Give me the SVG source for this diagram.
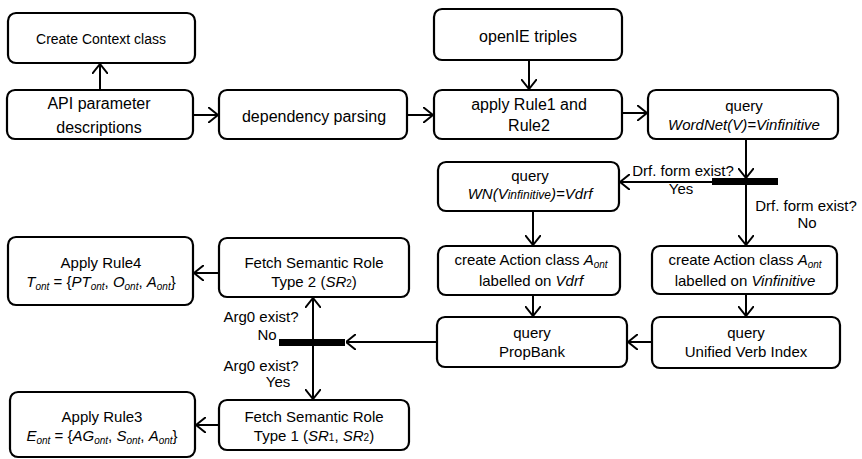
<svg xmlns="http://www.w3.org/2000/svg" width="862" height="459" viewBox="0 0 862 459">
<style>
.box{fill:#fff;stroke:#000;stroke-width:2.2}
text{font-family:"Liberation Sans",Arial,sans-serif;fill:#000;text-anchor:middle}
.t16{font-size:16px}
.t15{font-size:15px}
.t14{font-size:14px}
.i{font-style:italic}
.s{font-size:10px;font-style:italic}
.lbl{font-size:15px}
.c{fill:none;stroke:#000;stroke-width:2}
</style>
<defs>
<marker id="arr" markerUnits="userSpaceOnUse" viewBox="0 0 10 16" refX="10" refY="8" markerWidth="10" markerHeight="16" orient="auto">
<path d="M0,0 L10,8 L0,16" fill="none" stroke="#000" stroke-width="2"/>
</marker>
</defs>
<rect width="862" height="459" fill="#fff"/>
<g id="connectors">
<line class="c" x1="100" y1="90" x2="100" y2="64" marker-end="url(#arr)"/>
<line class="c" x1="193" y1="115" x2="218" y2="115" marker-end="url(#arr)"/>
<line class="c" x1="407" y1="115" x2="433" y2="115" marker-end="url(#arr)"/>
<line class="c" x1="529" y1="60" x2="529" y2="89" marker-end="url(#arr)"/>
<line class="c" x1="622" y1="113" x2="647" y2="113" marker-end="url(#arr)"/>
<line class="c" x1="746" y1="139" x2="746" y2="178" marker-end="url(#arr)"/>
<line class="c" x1="746" y1="185" x2="746" y2="245" marker-end="url(#arr)"/>
<line class="c" x1="712" y1="182" x2="620" y2="182" marker-end="url(#arr)"/>
<line class="c" x1="533" y1="211" x2="533" y2="245" marker-end="url(#arr)"/>
<line class="c" x1="533" y1="295" x2="533" y2="316" marker-end="url(#arr)"/>
<line class="c" x1="746" y1="294" x2="746" y2="316" marker-end="url(#arr)"/>
<line class="c" x1="652" y1="342" x2="628" y2="342" marker-end="url(#arr)"/>
<line class="c" x1="437" y1="342" x2="346" y2="342" marker-end="url(#arr)"/>
<line class="c" x1="313" y1="339" x2="313" y2="298" marker-end="url(#arr)"/>
<line class="c" x1="313" y1="346" x2="313" y2="399" marker-end="url(#arr)"/>
<line class="c" x1="219" y1="273" x2="194" y2="273" marker-end="url(#arr)"/>
<line class="c" x1="219" y1="425" x2="196" y2="425" marker-end="url(#arr)"/>
<rect x="712" y="178" width="66" height="7" fill="#000"/>
<rect x="279" y="339" width="66" height="7" fill="#000"/>
<text class="lbl" x="683" y="176">Drf. form exist?</text>
<text class="lbl" x="681" y="194">Yes</text>
<text class="lbl" x="806" y="211">Drf. form exist?</text>
<text class="lbl" x="807" y="228">No</text>
<text class="lbl" x="261" y="322">Arg0 exist?</text>
<text class="lbl" x="267" y="340">No</text>
<text class="lbl" x="261" y="371">Arg0 exist?</text>
<text class="lbl" x="278" y="387">Yes</text>
</g>
<g id="n-context">
<rect class="box" x="8" y="13" width="187" height="50" rx="8"/>
<text class="t14" x="101" y="44">Create Context class</text>
</g>
<g id="n-api">
<rect class="box" x="7" y="90" width="186" height="49" rx="8"/>
<text class="t16" x="99" y="109">API parameter</text>
<text class="t16" x="99" y="133">descriptions</text>
</g>
<g id="n-dep">
<rect class="box" x="219" y="90" width="188" height="49" rx="8"/>
<text class="t16" x="314" y="122">dependency parsing</text>
</g>
<g id="n-openie">
<rect class="box" x="434" y="9" width="188" height="51" rx="8"/>
<text class="t16" x="528" y="42">openIE triples</text>
</g>
<g id="n-apply12">
<rect class="box" x="434" y="90" width="188" height="49" rx="8"/>
<text class="t16" x="529" y="110">apply Rule1 and</text>
<text class="t16" x="529" y="131">Rule2</text>
</g>
<g id="n-wordnet">
<rect class="box" x="648" y="90" width="190" height="49" rx="8"/>
<text class="t15" x="744" y="111">query</text>
<text class="t15 i" x="744" y="130">WordNet(V)=Vinfinitive</text>
</g>
<g id="n-wn">
<rect class="box" x="438" y="162" width="181" height="49" rx="8"/>
<text class="t15" x="530" y="181">query</text>
<text class="t15 i" x="530" y="199">WN(V<tspan font-size="12px">infinitive</tspan>)=Vdrf</text>
</g>
<g id="n-action-drf">
<rect class="box" x="438" y="246" width="182" height="49" rx="8"/>
<text class="t15" x="531" y="265">create Action class <tspan class="i">A</tspan><tspan class="s" dy="3">ont</tspan></text>
<text class="t15" x="531" y="286">labelled on <tspan class="i">Vdrf</tspan></text>
</g>
<g id="n-action-inf">
<rect class="box" x="652" y="246" width="185" height="48" rx="8"/>
<text class="t15" x="745" y="265">create Action class <tspan class="i">A</tspan><tspan class="s" dy="3">ont</tspan></text>
<text class="t15" x="745" y="286">labelled on <tspan class="i">Vinfinitive</tspan></text>
</g>
<g id="n-propbank">
<rect class="box" x="437" y="317" width="190" height="50" rx="8"/>
<text class="t15" x="532" y="338">query</text>
<text class="t15" x="532" y="357">PropBank</text>
</g>
<g id="n-uvi">
<rect class="box" x="652" y="317" width="188" height="51" rx="8"/>
<text class="t15" x="746" y="338">query</text>
<text class="t15" x="746" y="357">Unified Verb Index</text>
</g>
<g id="n-rule4">
<rect class="box" x="8" y="237" width="185" height="68" rx="8"/>
<text class="t15" x="101" y="268">Apply Rule4</text>
<text class="t15" x="101" y="287"><tspan class="i">T</tspan><tspan class="s" dy="3">ont</tspan><tspan dy="-3"> = {</tspan><tspan class="i">PT</tspan><tspan class="s" dy="3">ont</tspan><tspan dy="-3">, </tspan><tspan class="i">O</tspan><tspan class="s" dy="3">ont</tspan><tspan dy="-3">, </tspan><tspan class="i">A</tspan><tspan class="s" dy="3">ont</tspan><tspan dy="-3">}</tspan></text>
</g>
<g id="n-fetch2">
<rect class="box" x="219" y="238" width="190" height="59" rx="8"/>
<text class="t15" x="314" y="268">Fetch Semantic Role</text>
<text class="t15" x="314" y="287">Type 2 (<tspan class="i">SR</tspan><tspan font-size="10px">2</tspan>)</text>
</g>
<g id="n-rule3">
<rect class="box" x="10" y="392" width="185" height="65" rx="8"/>
<text class="t15" x="102" y="422">Apply Rule3</text>
<text class="t15" x="102" y="441"><tspan class="i">E</tspan><tspan class="s" dy="3">ont</tspan><tspan dy="-3"> = {</tspan><tspan class="i">AG</tspan><tspan class="s" dy="3">ont</tspan><tspan dy="-3">, </tspan><tspan class="i">S</tspan><tspan class="s" dy="3">ont</tspan><tspan dy="-3">, </tspan><tspan class="i">A</tspan><tspan class="s" dy="3">ont</tspan><tspan dy="-3">}</tspan></text>
</g>
<g id="n-fetch1">
<rect class="box" x="219" y="400" width="190" height="50" rx="8"/>
<text class="t15" x="314" y="422">Fetch Semantic Role</text>
<text class="t15" x="314" y="441">Type 1 (<tspan class="i">SR</tspan><tspan font-size="10px">1</tspan>, <tspan class="i">SR</tspan><tspan font-size="10px">2</tspan>)</text>
</g>
</svg>
